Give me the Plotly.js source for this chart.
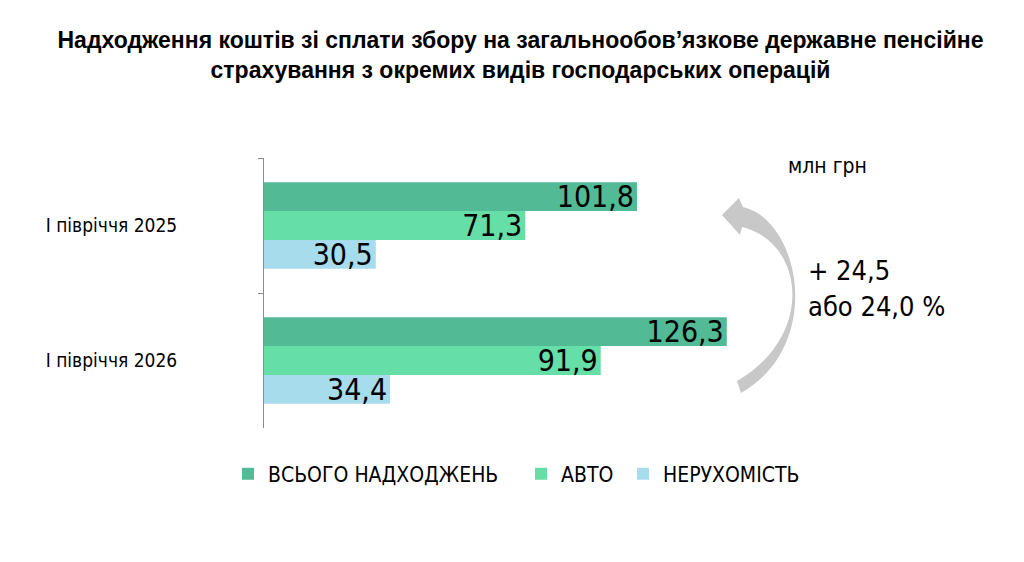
<!DOCTYPE html>
<html>
<head>
<meta charset="utf-8">
<script src="https://cdn.plot.ly/plotly-3.0.1.min.js"></script>
<style>
  html, body { margin: 0; padding: 0; background: #fff; }
  #chart { width: 1024px; height: 562px; }
</style>
</head>
<body>
<div id="chart"></div>
<script>
// values (млн грн)
const periods = ['I півріччя 2025', 'I півріччя 2026'];
const totalValues = [101.8, 126.3];
const autoValues = [71.3, 91.9];
const realtyValues = [30.5, 34.4];
const seriesNames = ['ВСЬОГО НАДХОДЖЕНЬ', 'АВТО', 'НЕРУХОМІСТЬ'];
const seriesColors = ['#52BA94', '#66DEA8', '#A6DCEC'];

const narrow = '"DejaVu Sans Condensed", "Liberation Sans Narrow", sans-serif';
const W = 1024, H = 562;
const M = { l: 264, r: 247, t: 158, b: 134 };

// pixel -> paper helpers for the decorations outside the plot area
const px = x => (x - M.l) / (W - M.l - M.r);
const py = y => (H - M.b - y) / (H - M.t - M.b);

const fmt = v => v.toFixed(1).replace('.', ',');

function barTrace(values, i) {
    return {
        type: 'bar',
        orientation: 'h',
        y: periods,
        x: values,
        name: seriesNames[i],
        legend: i === 0 ? 'legend' : 'legend' + (i + 1),
        showlegend: true,
        marker: { color: seriesColors[i], line: { width: 0 } },
        text: values.map(fmt),
        textposition: 'inside',
        insidetextanchor: 'end',
        textangle: 0,
        constraintext: 'none',
        insidetextfont: { family: narrow, size: 30, color: '#000' },
        hoverinfo: 'x+name'
    };
}

const traces = [totalValues, autoValues, realtyValues].map(barTrace);

// curved grey arrow on the right (pixel path converted to paper units)
const arrowPts = [
    ['M', [722, 215]], ['L', [739, 198]], ['L', [743, 207]],
    ['C', [800, 220], [825, 345], [741, 393]],
    ['L', [737, 381]],
    ['C', [816, 335], [804, 242], [742, 227]],
    ['L', [740, 235]]
];
const arrowPath = arrowPts.map(([cmd, ...pts]) =>
    cmd + ' ' + pts.map(p => px(p[0]).toFixed(4) + ',' + py(p[1]).toFixed(4)).join(' ')
).join(' ') + ' Z';

const legendBase = {
    orientation: 'h',
    xref: 'paper', yref: 'paper',
    xanchor: 'left', yanchor: 'middle',
    y: py(474),
    font: { family: narrow, size: 21, color: '#000' },
    bgcolor: 'rgba(0,0,0,0)',
    itemwidth: 30
};

const layout = {
    width: W, height: H,
    margin: M,
    paper_bgcolor: '#fff',
    plot_bgcolor: '#fff',
    font: { family: narrow, color: '#000' },
    showlegend: true,
    title: {
        text: 'Надходження коштів зі сплати збору на загальнообов’язкове державне пенсійне<br>страхування з окремих видів господарських операцій',
        font: { family: '"Liberation Sans", Arial, sans-serif', size: 23, color: '#000', weight: 'bold' },
        x: 0.5, xref: 'paper', xanchor: 'center',
        y: 1 - 48 / H, yanchor: 'middle'
    },
    barmode: 'group',
    bargap: 0.36,
    bargroupgap: 0,
    xaxis: { visible: false, range: [0, 140], fixedrange: true },
    yaxis: {
        type: 'category',
        autorange: 'reversed',
        showline: true, linecolor: '#8c8c8c', linewidth: 1,
        ticks: 'outside', tickson: 'boundaries', ticklen: 5, tickcolor: '#8c8c8c',
        ticklabelstandoff: 82,
        tickfont: { family: narrow, size: 19, color: '#000' },
        showgrid: false, zeroline: false, fixedrange: true
    },
    legend: Object.assign({}, legendBase, { x: px(228) }),
    legend2: Object.assign({}, legendBase, { x: px(521) }),
    legend3: Object.assign({}, legendBase, { x: px(623) }),
    shapes: [{
        type: 'path', xref: 'paper', yref: 'paper',
        path: arrowPath,
        fillcolor: '#c8c8c8', line: { width: 0 }, layer: 'above'
    }],
    annotations: [
        { text: 'млн грн', x: px(869), y: py(152), xref: 'paper', yref: 'paper',
          showarrow: false, font: { family: narrow, size: 21, color: '#000' } },
        { text: '+ 24,5', x: px(806), y: py(270), xref: 'paper', yref: 'paper',
          xanchor: 'left', showarrow: false, font: { family: narrow, size: 27, color: '#000' } },
        { text: 'або 24,0 %', x: px(806), y: py(306), xref: 'paper', yref: 'paper',
          xanchor: 'left', showarrow: false, font: { family: narrow, size: 27, color: '#000' } }
    ]
};

Plotly.newPlot('chart', traces, layout, { displayModeBar: false, staticPlot: true });
</script>
</body>
</html>
